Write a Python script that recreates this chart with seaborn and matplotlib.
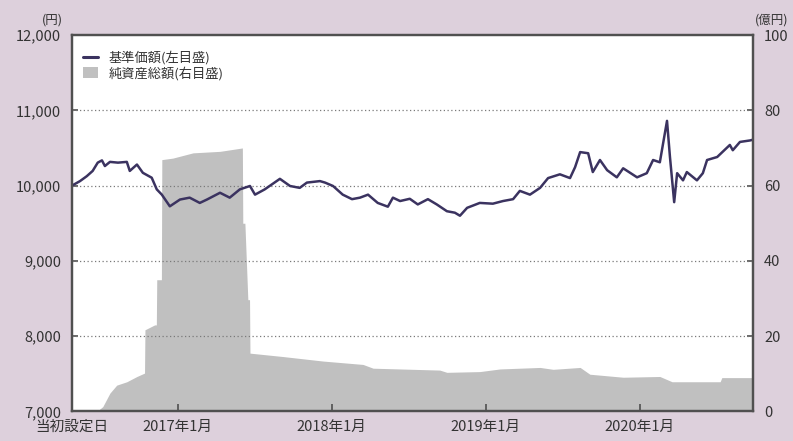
import pandas as pd
import matplotlib.pyplot as plt
import seaborn as sns
from matplotlib.lines import Line2D
from matplotlib.patches import Patch

# 基準価額 (left axis, yen)
nav_dates = [
    '2016-04-25', '2016-05-14', '2016-05-30', '2016-06-13', '2016-06-25', '2016-07-05',
    '2016-07-12', '2016-07-24', '2016-08-12', '2016-09-02', '2016-09-09', '2016-09-26',
    '2016-10-10', '2016-10-31', '2016-11-12', '2016-11-24', '2016-12-13', '2017-01-06',
    '2017-01-29', '2017-02-22', '2017-03-11', '2017-04-11', '2017-05-04', '2017-05-28',
    '2017-06-21', '2017-07-03', '2017-07-26', '2017-08-31', '2017-09-24', '2017-10-17',
    '2017-11-03', '2017-12-04', '2017-12-16', '2018-01-04', '2018-01-27', '2018-02-18',
    '2018-03-09', '2018-03-28', '2018-04-20', '2018-05-14', '2018-05-26', '2018-06-12',
    '2018-07-05', '2018-07-24', '2018-08-17', '2018-09-07', '2018-10-01', '2018-10-20',
    '2018-11-01', '2018-11-18', '2018-12-18', '2019-01-18', '2019-02-11', '2019-03-07',
    '2019-03-23', '2019-04-16', '2019-05-10', '2019-05-29', '2019-06-26', '2019-07-20',
    '2019-08-01', '2019-08-13', '2019-09-01', '2019-09-12', '2019-09-29', '2019-10-16',
    '2019-11-08', '2019-11-23', '2019-12-26', '2020-01-18', '2020-02-02', '2020-02-18',
    '2020-03-06', '2020-03-13', '2020-03-23', '2020-03-30', '2020-04-13', '2020-04-22',
    '2020-05-16', '2020-05-30', '2020-06-09', '2020-07-03', '2020-08-02', '2020-08-09',
    '2020-08-26', '2020-09-19', '2020-09-26',
]
nav_values = [
    10000, 10060, 10125, 10195, 10305, 10335,
    10260, 10315, 10305, 10315, 10195, 10280,
    10170, 10105, 9950, 9880, 9725, 9815,
    9840, 9770, 9815, 9905, 9840, 9950,
    9995, 9880, 9950, 10090, 9995, 9970,
    10040, 10060, 10040, 9995, 9880, 9820,
    9840, 9880, 9770, 9720, 9840, 9795,
    9825, 9750, 9820, 9750, 9660, 9640,
    9600, 9705, 9770, 9760, 9795, 9820,
    9930, 9880, 9970, 10100, 10150, 10100,
    10245, 10445, 10430, 10180, 10340, 10205,
    10110, 10230, 10110, 10165, 10340, 10310,
    10860, 10380, 9780, 10165, 10070, 10180,
    10070, 10165, 10340, 10380, 10540, 10470,
    10580, 10600, 10610,
]

# 純資産総額 (right axis, 億円)
aum_dates = [
    '2016-04-25', '2016-06-23', '2016-07-07', '2016-07-24', '2016-08-09', '2016-09-02',
    '2016-09-26', '2016-10-14', '2016-10-15', '2016-11-07', '2016-11-11', '2016-11-12',
    '2016-11-23', '2016-11-24', '2016-12-20', '2017-02-06', '2017-04-11', '2017-06-03',
    '2017-06-04', '2017-06-09', '2017-06-16', '2017-06-20', '2017-06-21', '2017-09-07',
    '2017-12-11', '2018-03-16', '2018-04-09', '2018-09-14', '2018-10-01', '2018-12-18',
    '2019-02-04', '2019-05-10', '2019-06-10', '2019-08-13', '2019-09-05', '2019-11-23',
    '2020-02-18', '2020-03-18', '2020-07-10', '2020-07-14', '2020-09-26',
]
aum_values = [
    0, 0, 1.3, 4.9, 7.0, 7.9,
    9.3, 10.2, 21.7, 23.0, 23.0, 35.0,
    35.0, 66.9, 67.3, 68.7, 69.1, 70.0,
    50.0, 50.0, 29.7, 29.7, 15.5, 14.6,
    13.4, 12.5, 11.5, 11.0, 10.4, 10.6,
    11.3, 11.7, 11.2, 11.7, 9.9, 9.1,
    9.3, 7.9, 7.9, 9.0, 9.0,
]

tick_dates = ['2016-04-25', '2017-01-01', '2018-01-01', '2019-01-01', '2020-01-01']
tick_labels = ['当初設定日', '2017年1月', '2018年1月', '2019年1月', '2020年1月']
left_ticks = [7000, 8000, 9000, 10000, 11000, 12000]
right_ticks = [0, 20, 40, 60, 80, 100]

nav = pd.DataFrame({'date': pd.to_datetime(nav_dates), 'nav': nav_values})
aum = pd.DataFrame({'date': pd.to_datetime(aum_dates), 'aum': aum_values})

sns.set_theme(style='ticks')
plt.rcParams['font.family'] = ['Noto Sans CJK JP', 'DejaVu Sans']

bg = '#ddd0dc'
line_color = '#3b3360'
fill_color = '#c0c0c0'
text_color = '#333333'
spine_color = '#505050'

fig = plt.figure(figsize=(7.93, 4.41), dpi=100, facecolor=bg)
ax = fig.add_axes([0.0908, 0.0669, 0.8588, 0.8537])
ax2 = ax.twinx()

# the twin sits underneath: give it the white plot background and the area
ax2.patch.set_visible(True)
ax2.set_facecolor('white')
ax2.fill_between(aum['date'], aum['aum'], 0, color=fill_color, linewidth=0)
ax2.set_ylim(0, 100)
ax2.set_yticks(right_ticks)

ax.set_zorder(ax2.get_zorder() + 1)
ax.patch.set_visible(False)
sns.lineplot(data=nav, x='date', y='nav', ax=ax, color=line_color, linewidth=1.8)
ax.set_ylim(7000, 12000)
ax.set_yticks(left_ticks)
ax.set_yticklabels([f'{v:,}' for v in left_ticks])
for v in left_ticks[1:-1]:
    ax.axhline(v, color='#7a7a7a', linestyle=(0, (1, 2)), linewidth=0.9, zorder=1)

start = pd.Timestamp(tick_dates[0])
ax.set_xlim(start, pd.Timestamp('2020-09-26'))
ax.set_xticks(pd.to_datetime(tick_dates))
ax.set_xticklabels(tick_labels)
ax.set_xlabel('')
ax.set_ylabel('')
ax2.set_ylabel('')

for a in (ax, ax2):
    for s in a.spines.values():
        s.set_color(spine_color)
        s.set_linewidth(1.6)
        s.set_visible(True)
    a.tick_params(direction='in', length=4, width=1.2, color=spine_color,
                  labelcolor=text_color, labelsize=10.5)
ax.tick_params(axis='y', pad=8)
ax2.tick_params(axis='y', pad=8)
ax.tick_params(axis='x', pad=6, length=5)

fig.text(0.079, 0.955, '(円)', ha='right', va='center', fontsize=9, color=text_color)
fig.text(0.994, 0.955, '(億円)', ha='right', va='center', fontsize=9, color=text_color)

handles = [Line2D([0], [0], color=line_color, linewidth=2.2),
           Patch(facecolor=fill_color, edgecolor='none')]
ax.legend(handles, ['基準価額(左目盛)', '純資産総額(右目盛)'], loc='upper left',
          bbox_to_anchor=(0.0, 0.985), frameon=False, fontsize=9.5,
          handlelength=1.2, handleheight=0.9, labelspacing=0.1, borderaxespad=0.4,
          labelcolor=text_color)

fig.savefig('out.png', dpi=100, facecolor=bg)
